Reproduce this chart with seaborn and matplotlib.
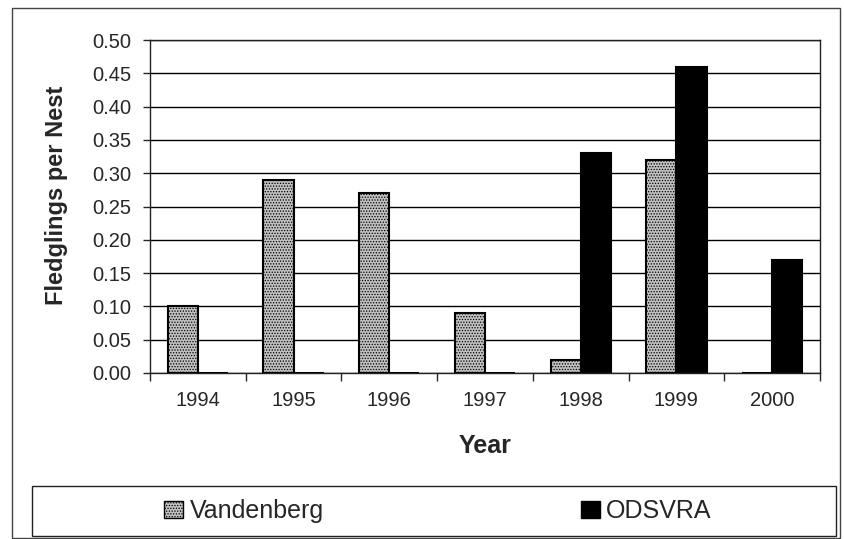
import seaborn as sns
import matplotlib.pyplot as plt
import matplotlib.patches as mpatches
import pandas as pd
import numpy as np

years = ["1994", "1995", "1996", "1997", "1998", "1999", "2000"]
vandenberg = [0.10, 0.29, 0.27, 0.09, 0.02, 0.32, 0.0]
odsvra = [0.0, 0.0, 0.0, 0.0, 0.33, 0.46, 0.17]
sites = ["Vandenberg", "ODSVRA"]

df = pd.DataFrame({
    "Year": years * 2,
    "Site": [sites[0]] * len(years) + [sites[1]] * len(years),
    "Fledglings": vandenberg + odsvra,
})

sns.set_style("white")
plt.rcParams["font.family"] = ["Liberation Sans", "DejaVu Sans"]
plt.rcParams["hatch.linewidth"] = 0.6

W, H = 845, 539
fig = plt.figure(figsize=(W / 100, H / 100), dpi=100)
ax = fig.add_axes([150 / W, 1 - 373 / H, 670 / W, 333 / H])

sns.barplot(data=df, x="Year", y="Fledglings", hue="Site", order=years,
            hue_order=sites, palette=["#c0c0c0", "black"], width=0.63,
            edgecolor="black", linewidth=1.5, saturation=1, ax=ax, legend=False)

for bar in ax.patches[:len(years)]:
    bar.set_hatch("......")

ax.set_ylim(0, 0.5)
ax.set_xlim(-0.5, len(years) - 0.5)
ax.set_yticks(np.arange(0, 0.51, 0.05))
ax.set_yticklabels([f"{v:.2f}" for v in np.arange(0, 0.51, 0.05)])
ax.yaxis.grid(True, color="black", linewidth=1.0)
ax.set_axisbelow(True)
for s in ax.spines.values():
    s.set_color("#222222")
    s.set_linewidth(1.0)

ax.set_xticks(np.arange(-0.5, len(years), 1), minor=True)
ax.tick_params(axis="x", which="major", length=0, labelsize=14.5, pad=13)
ax.tick_params(axis="x", which="minor", length=6, width=1, direction="out")
ax.tick_params(axis="y", length=5, width=1, direction="out", labelsize=14.5, pad=8.5)
ax.tick_params(bottom=True, left=True, which="both")

ax.set_xlabel("Year", fontsize=18, fontweight="bold")
ax.xaxis.set_label_coords(0.5, (373 - 446) / 333)
ax.xaxis.label.set_va("center")
ax.set_ylabel("Fledglings per Nest", fontsize=17, fontweight="bold")
ax.yaxis.set_label_coords((57 - 150) / 670, (373 - 195) / 333)
ax.yaxis.label.set_va("center")

# outer border and legend box
fig.patches.append(mpatches.Rectangle((12 / W, 1 - 538 / H), 828 / W, 530 / H,
                                      transform=fig.transFigure, fill=False,
                                      edgecolor="#444444", linewidth=1.0))
fig.patches.append(mpatches.Rectangle((32 / W, 1 - 536 / H), 804 / W, 50 / H,
                                      transform=fig.transFigure, fill=False,
                                      edgecolor="#222222", linewidth=1.0))

handles = [mpatches.Patch(facecolor="#c0c0c0", edgecolor="black", hatch="......"),
           mpatches.Patch(facecolor="black", edgecolor="black")]
fig.legend(handles, sites, loc="center", bbox_to_anchor=(438 / W, 1 - 511 / H),
           ncol=2, frameon=False, fontsize=18, handlelength=0.76, handleheight=0.7,
           handletextpad=0.24, columnspacing=10.3, borderpad=0, borderaxespad=0)

fig.savefig("out.png", dpi=100)
